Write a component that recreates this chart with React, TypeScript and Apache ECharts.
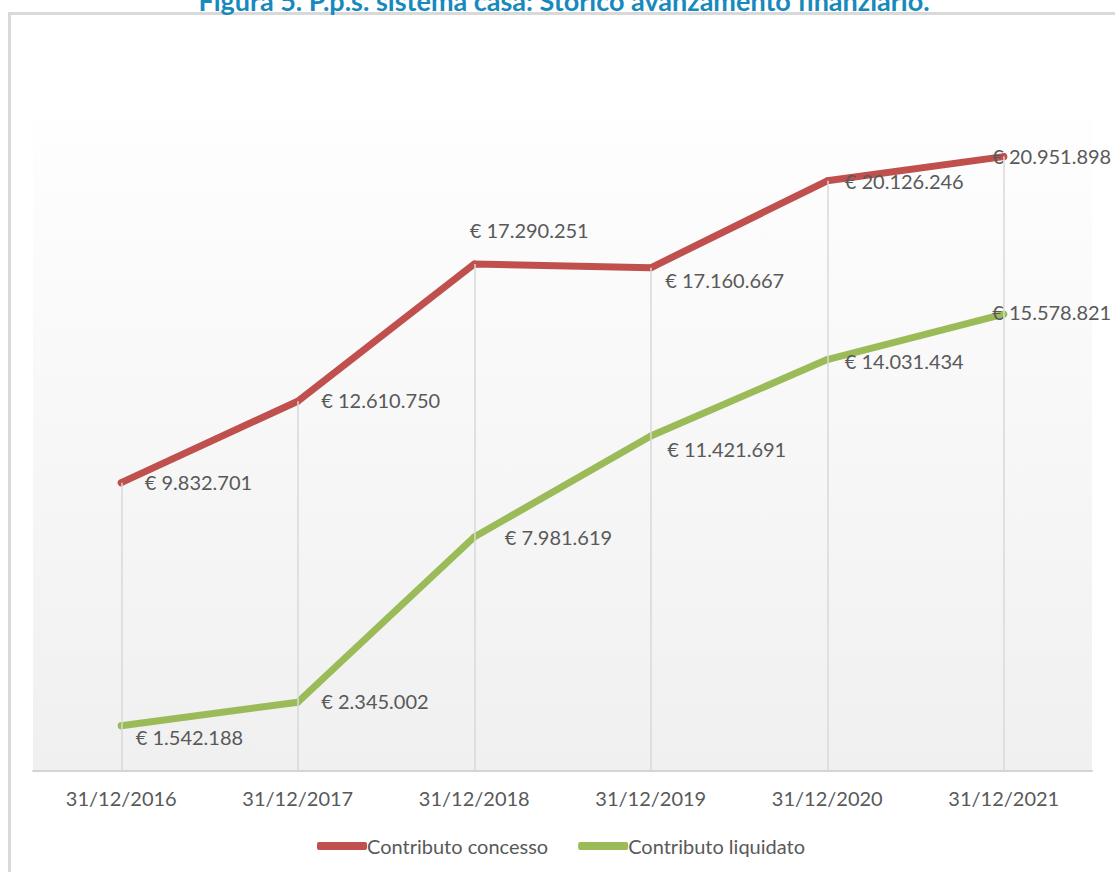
import React, { useEffect, useRef } from "react";
import * as echarts from "echarts";

const categories = ["31/12/2016", "31/12/2017", "31/12/2018", "31/12/2019", "31/12/2020", "31/12/2021"];
const concesso = [9832701, 12610750, 17290251, 17160667, 20126246, 20951898];
const liquidato = [1542188, 2345002, 7981619, 11421691, 14031434, 15578821];
const seriesNames = ["Contributo concesso", "Contributo liquidato"];
const titleText = "Figura 5. P.p.s. sistema casa: Storico avanzamento finanziario.";

// label placement tweaks (style only)
const concessoLabelOffsets = [[0, -1], [0, -1], [-28, -34], [-9, 12], [-6, 0], [-35, -1]];
const liquidatoLabelOffsets = [[-9, 11], [0, -1], [7, 0], [-7, 13], [-6, 1], [-35, -2]];

const FONT = "Lato, 'Open Sans', sans-serif";
const RED = "#c0504d";
const GREEN = "#9bbb59";
const TEXT = "#595959";

const fmt = (v: number) => "€ " + String(v).replace(/\B(?=(\d{3})+(?!\d))/g, ".");

export default function App() {
  const ref = useRef<HTMLDivElement>(null);
  useEffect(() => {
    if (!ref.current) return;
    const chart = echarts.init(ref.current, null, { renderer: "svg" });
    const mkData = (vals: number[], offs: number[][]) =>
      vals.map((v, i) => ({ value: v, label: { offset: offs[i] } }));
    chart.setOption({
      animation: false,
      backgroundColor: "#ffffff",
      textStyle: { fontFamily: FONT },
      graphic: [
        {
          type: "rect",
          z: 0,
          shape: { x: 9.5, y: 13.5, width: 1300, height: 1000 },
          style: { fill: "none", stroke: "#d9d9d9", lineWidth: 3 },
          silent: true,
        },
        {
          type: "text",
          z: 10,
          x: 564,
          y: 14,
          style: {
            text: titleText,
            font: "bold 27px " + FONT,
            fill: "#1789bd",
            textAlign: "center",
            textVerticalAlign: "bottom",
          },
        },
      ],
      grid: {
        left: 33,
        right: 23,
        top: 120,
        bottom: 101,
        show: true,
        borderWidth: 0,
        backgroundColor: new echarts.graphic.LinearGradient(0, 0, 0, 1, [
          { offset: 0, color: "#fefefe" },
          { offset: 1, color: "#f0f0f0" },
        ]),
      },
      legend: {
        data: seriesNames,
        left: 312,
        top: 831,
        itemWidth: 50,
        itemHeight: 8,
        itemGap: 30,
        icon: "roundRect",
        textStyle: { color: TEXT, fontSize: 20, fontFamily: FONT, padding: [0, 0, 0, -5] },
      },
      xAxis: {
        type: "category",
        data: categories,
        boundaryGap: true,
        axisLine: { show: true, lineStyle: { color: "#d4d4d4", width: 2 } },
        axisTick: { show: false },
        axisLabel: { color: TEXT, fontSize: 20, fontFamily: FONT, margin: 17 },
        splitLine: { show: false },
      },
      yAxis: {
        type: "value",
        min: 0,
        max: 22200000,
        show: false,
        splitLine: { show: false },
      },
      series: [
        {
          name: "drop",
          type: "line",
          data: concesso,
          symbol: "none",
          lineStyle: { opacity: 0 },
          silent: true,
          z: 1,
          markLine: {
            silent: true,
            symbol: "none",
            label: { show: false },
            lineStyle: { color: "#d9d9d9", width: 1.5, type: "solid" },
            data: concesso.map((v, i) => [
              { coord: [i, v] },
              { coord: [i, 0] },
            ]),
          },
        },
        {
          name: seriesNames[0],
          type: "line",
          data: mkData(concesso, concessoLabelOffsets),
          z: 3,
          symbol: "circle",
          symbolSize: 7,
          itemStyle: { color: RED, borderWidth: 0 },
          lineStyle: { color: RED, width: 7, cap: "round", join: "round" },
          label: {
            show: true,
            position: "right",
            distance: 20,
            color: TEXT,
            fontSize: 20,
            fontFamily: FONT,
            formatter: (p: any) => fmt(p.value),
          },
        },
        {
          name: seriesNames[1],
          type: "line",
          data: mkData(liquidato, liquidatoLabelOffsets),
          z: 3,
          symbol: "circle",
          symbolSize: 7,
          itemStyle: { color: GREEN, borderWidth: 0 },
          lineStyle: { color: GREEN, width: 7, cap: "round", join: "round" },
          label: {
            show: true,
            position: "right",
            distance: 20,
            color: TEXT,
            fontSize: 20,
            fontFamily: FONT,
            formatter: (p: any) => fmt(p.value),
          },
        },
      ],
    });
    return () => chart.dispose();
  }, []);
  return (
    <div
      ref={ref}
      style={{ position: "fixed", left: 0, top: 0, width: 1115, height: 872 }}
    />
  );
}
